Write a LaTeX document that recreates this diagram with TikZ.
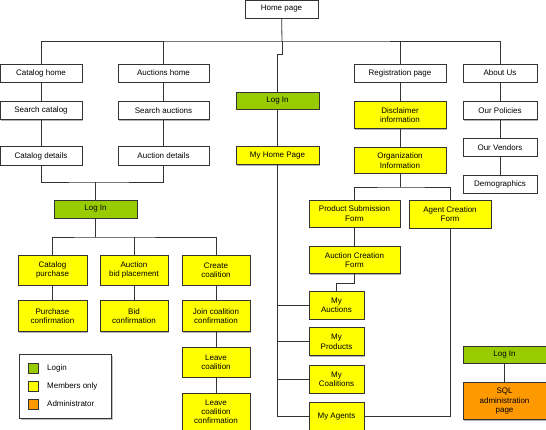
\documentclass[tikz,border=0pt]{standalone}
\usepackage{fontspec}
\setmainfont{Liberation Sans}
\usetikzlibrary{positioning,shadows}
\definecolor{loginc}{RGB}{153,204,0}
\definecolor{membc}{RGB}{255,255,0}
\definecolor{adminc}{RGB}{255,153,0}
\definecolor{edgec}{RGB}{51,51,51}
\tikzset{
  page/.style={draw=edgec, fill=white, rectangle, minimum height=18pt, inner sep=1pt, align=center,
    font={\fontsize{8}{9.3}\selectfont}, line width=0.8pt,
    drop shadow={shadow xshift=0.8pt, shadow yshift=-0.8pt, opacity=0.3, fill=black}},
  login/.style={page, fill=loginc},
  member/.style={page, fill=membc},
  admin/.style={page, fill=adminc},
  keybox/.style={draw=edgec, line width=0.8pt, minimum size=10pt, inner sep=0pt},
  keytxt/.style={anchor=west, inner sep=0pt, font={\fontsize{8}{9.3}\selectfont}},
  link/.style={draw=edgec, line width=0.8pt},
}
\begin{document}
\begin{tikzpicture}[x=1pt, y=-1pt]
\useasboundingbox (0,0) rectangle (546,429);

% top of the site
\node[page, minimum width=73pt] (home) at (281.5,9) {Home page};
\coordinate (hbus) at (282,41);

% catalog and auctions
\node[page, minimum width=82pt] (cathome) at (41,73) {Catalog home};
\node[page, minimum width=82pt, below=19pt of cathome] (searchcat) {Search catalog};
\node[page, minimum width=82pt, minimum height=19pt, below=26pt of searchcat] (catdet) {Catalog details};
\node[page, minimum width=91pt] (auchome) at (163.5,73) {Auctions home};
\node[page, minimum width=91pt, below=19pt of auchome] (searchauc) {Search auctions};
\node[page, minimum width=91pt, minimum height=19pt, below=26pt of searchauc] (aucdet) {Auction details};
\coordinate (lbus) at (95.5,182);
\node[login, minimum width=83pt] (loginA) at (95.5,209) {Log In};
\coordinate (mbus) at (95.5,237);

\node[member, minimum width=69pt, minimum height=30pt] (catpur) at (52.5,270) {Catalog\\purchase};
\node[member, minimum width=69pt, minimum height=31pt, below=15pt of catpur] (purconf) {Purchase\\confirmation};
\node[member, minimum width=68pt, minimum height=30pt] (bidplace) at (134,270) {Auction\\bid placement};
\node[member, minimum width=68pt, minimum height=31pt, below=15pt of bidplace] (bidconf) {Bid\\confirmation};
\node[member, minimum width=68pt, minimum height=30pt] (createcoal) at (216,270) {Create\\coalition};
\node[member, minimum width=68pt, minimum height=31pt, below=15pt of createcoal] (joinconf) {Join coalition\\confirmation};
\node[member, minimum width=68pt, minimum height=30pt, below=15pt of joinconf] (leavecoal) {Leave\\coalition};
\node[member, minimum width=68pt, minimum height=37pt, below=15pt of leavecoal] (leaveconf) {Leave\\coalition\\confirmation};

% members area
\node[login, minimum width=83pt, minimum height=17pt] (loginM) at (277.5,100.5) {Log In};
\node[member, minimum width=83pt, below=37pt of loginM] (myhome) {My Home Page};
\node[member, minimum width=55pt, minimum height=28pt] (myauc) at (336.5,305) {My\\Auctions};
\node[member, minimum width=55pt, minimum height=28pt, below=8pt of myauc] (myprod) {My\\Products};
\node[member, minimum width=55pt, minimum height=28pt, below=9pt of myprod] (mycoal) {My\\Coalitions};
\node[member, minimum width=55pt, minimum height=28pt, below=8pt of mycoal] (myagents) {My Agents};

% registration
\node[page, minimum width=92pt] (regpage) at (400,73) {Registration page};
\node[member, minimum width=92pt, minimum height=27pt, below=19pt of regpage] (disclaimer) {Disclaimer\\information};
\node[member, minimum width=92pt, minimum height=26pt, below=18pt of disclaimer] (orginfo) {Organization\\Information};
\coordinate (rbus) at (400,187);
\node[member, minimum width=91pt, minimum height=27pt] (prodsub) at (354.5,213.5) {Product Submission\\Form};
\node[member, minimum width=91pt, minimum height=27pt, below=19pt of prodsub] (auccreate) {Auction Creation\\Form};
\node[member, minimum width=82pt, minimum height=28pt] (agentcreate) at (450,214) {Agent Creation\\Form};

% about us
\node[page, minimum width=74pt] (aboutus) at (500,73) {About Us};
\node[page, minimum width=74pt, below=19pt of aboutus] (policies) {Our Policies};
\node[page, minimum width=74pt, below=18pt of policies] (vendors) {Our Vendors};
\node[page, minimum width=74pt, below=18pt of vendors] (demog) {Demographics};

% administration
\node[login, minimum width=83pt, minimum height=17pt] (loginR) at (504.5,354.5) {Log In};
\node[admin, minimum width=83pt, minimum height=37pt, below=19pt of loginR] (sqladmin) {SQL\\administration\\page};

% key
\node[draw=edgec, fill=white, line width=0.8pt, minimum width=92pt, minimum height=64pt,
  drop shadow={shadow xshift=2pt, shadow yshift=-2pt, opacity=0.25, fill=black}] (legend) at (65,386) {};
\node[keybox, fill=loginc] (keylogin) at (33,368) {};
\node[keybox, fill=membc] (keymemb) at (33,386) {};
\node[keybox, fill=adminc] (keyadmin) at (33,404) {};
\node[keytxt] (txtlogin) at (47,368) {Login};
\node[keytxt] (txtmemb) at (47,386) {Members only};
\node[keytxt] (txtadmin) at (47,404) {Administrator};

% links
\draw[link] (home) -- (hbus);
\draw[link] (cathome) |- (hbus) -| (aboutus);
\draw[link] (auchome) -- (auchome |- hbus);
\draw[link] (regpage) -- (regpage |- hbus);
\draw[link] (hbus) -- ++(0,13) -| (loginM);

\draw[link] (cathome) -- (searchcat) -- (catdet);
\draw[link] (auchome) -- (searchauc) -- (aucdet);
\draw[link] (catdet) |- (lbus) -| (aucdet);
\draw[link] (lbus) -- (loginA);
\draw[link] (loginA) -- (mbus);
\draw[link] (catpur) |- (mbus) -| (createcoal);
\draw[link] (bidplace) -- (bidplace |- mbus);
\draw[link] (catpur) -- (purconf);
\draw[link] (bidplace) -- (bidconf);
\draw[link] (createcoal) -- (joinconf) -- (leavecoal) -- (leaveconf);

\draw[link] (loginM) -- (myhome);
\draw[link] (myhome) |- (myagents);
\draw[link] (myauc) -- (myauc -| myhome);
\draw[link] (myprod) -- (myprod -| myhome);
\draw[link] (mycoal) -- (mycoal -| myhome);

\draw[link] (regpage) -- (disclaimer) -- (orginfo);
\draw[link] (orginfo) -- (rbus);
\draw[link] (prodsub) |- (rbus) -| (agentcreate);
\draw[link] (prodsub) -- (auccreate);
\draw[link] (auccreate.south) -- ++(0,9) -| (myauc);
\draw[link] (myagents) -| (agentcreate);

\draw[link] (aboutus) -- (policies) -- (vendors) -- (demog);
\draw[link] (loginR) -- (sqladmin);

\end{tikzpicture}
\end{document}
